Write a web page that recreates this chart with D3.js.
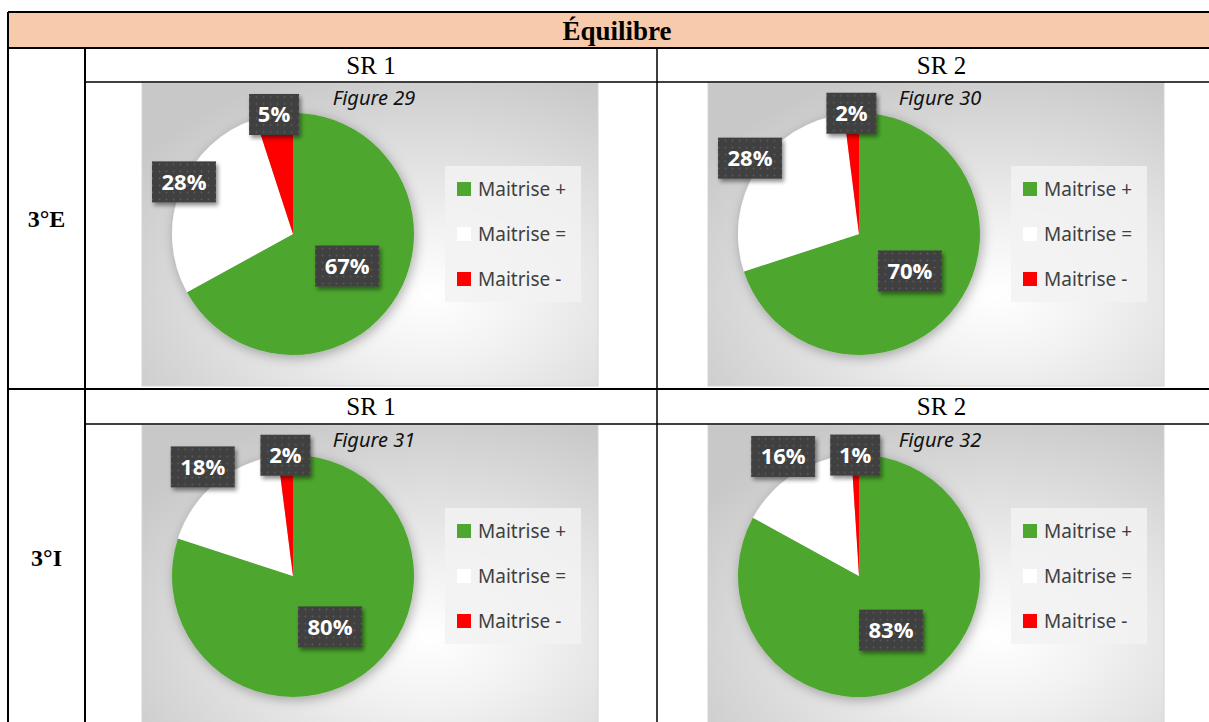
<!DOCTYPE html>
<html>
<head>
  <script src="https://d3js.org/d3.v7.min.js"></script>
  <style>
    html, body { margin: 0; padding: 0; background: white; }
    svg { display: block; }
  </style>
</head>
<body>
<svg width="1209" height="722"></svg>
<script>
  // données
  const categories = ["Maitrise +", "Maitrise =", "Maitrise -"];
  const colors = ["#4EA72E", "#FFFFFF", "#FF0000"];
  const title = "Équilibre";
  const rowLabels = ["3°E", "3°I"];
  const colLabels = ["SR 1", "SR 2"];
  const figures = ["Figure 29", "Figure 30", "Figure 31", "Figure 32"];
  const fig29 = [67, 28, 5];
  const fig30 = [70, 28, 2];
  const fig31 = [80, 18, 2];
  const fig32 = [83, 16, 1];
  const charts = [fig29, fig30, fig31, fig32];

  const svg = d3.select("svg");
  const defs = svg.append("defs");

  // fond gris radial des graphiques
  const grad = defs.append("radialGradient").attr("id", "bg")
    .attr("cx", 0.63).attr("cy", 0.7).attr("r", 0.78);
  grad.append("stop").attr("offset", 0).attr("stop-color", "#ffffff");
  grad.append("stop").attr("offset", 0.28).attr("stop-color", "#f2f2f2");
  grad.append("stop").attr("offset", 1).attr("stop-color", "#c8c8c8");

  // motif à points des étiquettes
  const pat = defs.append("pattern").attr("id", "dots")
    .attr("width", 7).attr("height", 7).attr("patternUnits", "userSpaceOnUse");
  pat.append("rect").attr("width", 7).attr("height", 7).attr("fill", "#404040");
  pat.append("circle").attr("cx", 3.5).attr("cy", 3.5).attr("r", 0.9).attr("fill", "#5c5c5c");

  defs.append("filter").attr("id", "pieShadow")
    .attr("x", "-20%").attr("y", "-20%").attr("width", "140%").attr("height", "140%")
    .append("feDropShadow").attr("dx", 2).attr("dy", 3).attr("stdDeviation", 6)
    .attr("flood-color", "#000").attr("flood-opacity", 0.3);
  defs.append("filter").attr("id", "boxShadow")
    .attr("x", "-30%").attr("y", "-30%").attr("width", "160%").attr("height", "160%")
    .append("feDropShadow").attr("dx", 2).attr("dy", 3).attr("stdDeviation", 2)
    .attr("flood-color", "#000").attr("flood-opacity", 0.45);

  // tableau
  const T = { left: 8, right: 1226, top: 12, head: 48, col1: 85, col2: 657 };
  const rows = [{ sr: 48, chart: 82, end: 389 }, { sr: 389, chart: 424, end: 760 }];

  svg.append("rect").attr("x", T.left).attr("y", T.top)
    .attr("width", T.right - T.left).attr("height", T.head - T.top)
    .attr("fill", "#F7CAAC");
  svg.append("text").attr("x", (T.left + T.right) / 2).attr("y", 40)
    .attr("text-anchor", "middle")
    .style("font-family", "'Liberation Serif', 'Times New Roman', serif")
    .style("font-weight", "bold").style("font-size", "27px")
    .text(title);

  const colCenters = [(T.col1 + T.col2) / 2, (T.col2 + T.right) / 2];
  const chartX = [142, 708];
  const W = 456, H = 303, R = 121;

  rows.forEach((row, ri) => {
    svg.append("text").attr("x", (T.left + T.col1) / 2)
      .attr("y", ri === 0 ? 227 : 566)
      .attr("text-anchor", "middle")
      .style("font-family", "'Liberation Serif', 'Times New Roman', serif")
      .style("font-weight", "bold").style("font-size", "24px")
      .text(rowLabels[ri]);

    colLabels.forEach((lab, ci) => {
      svg.append("text").attr("x", colCenters[ci]).attr("y", row.sr + 26)
        .attr("text-anchor", "middle")
        .style("font-family", "'Liberation Serif', 'Times New Roman', serif")
        .style("font-size", "25px")
        .text(lab);
      drawPie(chartX[ci], row.chart + 1, charts[ri * 2 + ci], figures[ri * 2 + ci]);
    });
  });

  // lignes du tableau
  const lines = [
    [T.left, T.top, T.right, T.top, 2],
    [T.left, T.head, T.right, T.head, 2],
    [T.left, T.top, T.left, 760, 2],
    [T.col1, T.head, T.col1, 760, 2],
    [T.col2, T.head, T.col2, 760, 1.5],
    [T.col1, rows[0].chart, T.right, rows[0].chart, 1.5],
    [T.left, rows[1].sr, T.right, rows[1].sr, 2],
    [T.col1, rows[1].chart, T.right, rows[1].chart, 1.5]
  ];
  svg.append("g").selectAll("line").data(lines).enter().append("line")
    .attr("x1", d => d[0]).attr("y1", d => d[1])
    .attr("x2", d => d[2]).attr("y2", d => d[3])
    .attr("stroke", "#000").attr("stroke-width", d => d[4]);

  function drawPie(x0, y0, values, fig) {
    const g = svg.append("g").attr("transform", `translate(${x0},${y0})`);
    g.append("rect").attr("width", W).attr("height", H)
      .attr("fill", "url(#bg)").attr("stroke", "#d4d4d4").attr("stroke-width", 1);

    g.append("text").attr("x", 232).attr("y", 22).attr("text-anchor", "middle")
      .style("font-family", "'Noto Sans', sans-serif").style("font-style", "italic")
      .style("font-size", "20px").attr("fill", "#111")
      .text(fig);

    const cx = 151, cy = 151;
    const pie = d3.pie().sort(null).value(d => d);
    const arcs = pie(values);
    const arc = d3.arc().innerRadius(0).outerRadius(R);
    const pg = g.append("g").attr("transform", `translate(${cx},${cy})`);
    pg.append("g").attr("filter", "url(#pieShadow)")
      .selectAll("path").data(arcs).enter().append("path")
      .attr("d", arc).attr("fill", (d, i) => colors[i]);

    // étiquettes
    const factor = [0.52, 1.17, 1.0];
    arcs.forEach((a, i) => {
      const mid = (a.startAngle + a.endAngle) / 2;
      const txt = a.data + "%";
      const bw = txt.length === 2 ? 50 : 64, bh = 41;
      let lx = cx + Math.sin(mid) * R * factor[i];
      let ly = cy - Math.cos(mid) * R * factor[i];
      lx = Math.max(10 + bw / 2, Math.min(W - 10 - bw / 2, lx));
      ly = Math.max(9 + bh / 2, Math.min(H - 9 - bh / 2, ly));
      const lg = g.append("g").attr("transform", `translate(${lx},${ly})`);
      lg.append("rect").attr("x", -bw / 2).attr("y", -bh / 2)
        .attr("width", bw).attr("height", bh)
        .attr("fill", "url(#dots)").attr("filter", "url(#boxShadow)");
      lg.append("text").attr("text-anchor", "middle").attr("dy", "0.36em")
        .style("font-family", "'Open Sans', 'Noto Sans', sans-serif")
        .style("font-weight", "bold").style("font-size", "22px")
        .attr("fill", "#fff").text(txt);
    });

    // légende
    const leg = g.append("g").attr("transform", "translate(303,83)");
    leg.append("rect").attr("width", 136).attr("height", 136)
      .attr("fill", "#f2f2f2").attr("opacity", 0.85);
    const item = leg.selectAll("g.it").data(categories).enter().append("g")
      .attr("transform", (d, i) => `translate(12,${23 + i * 45})`);
    item.append("rect").attr("x", 0).attr("y", -7).attr("width", 14).attr("height", 14)
      .attr("fill", (d, i) => colors[i]);
    item.append("text").attr("x", 21).attr("dy", "0.35em")
      .style("font-family", "'Noto Sans', sans-serif").style("font-size", "19px")
      .attr("fill", "#404040").text(d => d);
  }
</script>
</body>
</html>
